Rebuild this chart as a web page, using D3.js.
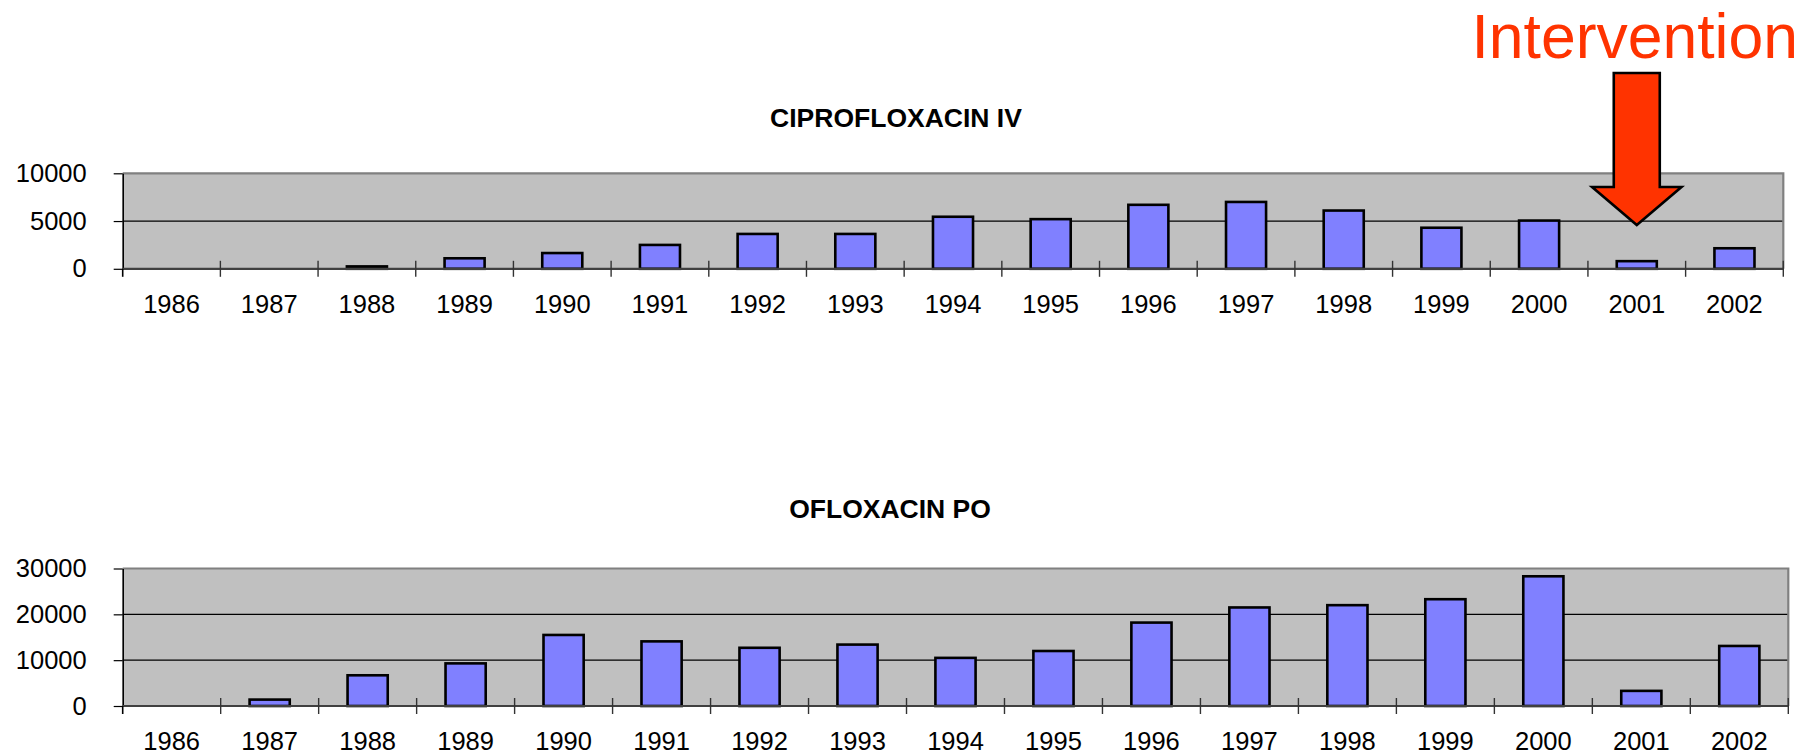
<!DOCTYPE html>
<html>
<head>
<meta charset="utf-8">
<script src="https://cdn.jsdelivr.net/npm/d3@7"></script>
<style>
  body { margin: 0; background: #fff; }
  svg { display: block; font-family: "Liberation Sans", Arial, sans-serif; }
</style>
</head>
<body>
<svg id="chart" width="1813" height="756"></svg>
<script>
// data
const years = ['1986', '1987', '1988', '1989', '1990', '1991', '1992', '1993', '1994',
               '1995', '1996', '1997', '1998', '1999', '2000', '2001', '2002'];
const ciproValues = [0, 0, 250, 1100, 1650, 2500, 3650, 3650, 5450, 5200, 6700, 7000, 6100, 4300, 5050, 800, 2150];
const ofloxValues = [0, 1400, 6700, 9300, 15500, 14100, 12700, 13400, 10500, 12000, 18200, 21500, 22000, 23300, 28300, 3300, 13100];
const ciproTicks = [0, 5000, 10000];
const ofloxTicks = [0, 10000, 20000, 30000];
const interventionYear = '2001';

const svg = d3.select('#chart');

function drawPanel(cfg) {
    const g = svg.append('g');

    const x = d3.scaleBand()
        .domain(years)
        .range([cfg.left, cfg.right])
        .padding(0);

    const y = d3.scaleLinear()
        .domain([0, d3.max(cfg.ticks)])
        .range([cfg.bottom, cfg.top]);

    // grey plot area
    g.append('rect')
        .attr('x', cfg.left)
        .attr('y', cfg.top)
        .attr('width', cfg.right - cfg.left)
        .attr('height', cfg.bottom - cfg.top)
        .attr('fill', '#c0c0c0');

    // gridlines (skip zero and the top edge)
    g.selectAll('.grid')
        .data(cfg.ticks.slice(1, -1))
        .join('line')
        .attr('class', 'grid')
        .attr('x1', cfg.left).attr('x2', cfg.right)
        .attr('y1', d => y(d)).attr('y2', d => y(d))
        .attr('stroke', '#000')
        .attr('stroke-width', 1.2);

    // top and right borders of the plot area
    g.append('path')
        .attr('d', `M${cfg.left},${y(d3.max(cfg.ticks))}H${cfg.right}V${cfg.bottom}`)
        .attr('fill', 'none')
        .attr('stroke', '#808080')
        .attr('stroke-width', 2.2);

    // bars
    const barW = x.bandwidth() * 0.41;
    g.selectAll('.bar')
        .data(years.map((yr, i) => ({year: yr, value: cfg.values[i]})).filter(d => d.value > 0))
        .join('rect')
        .attr('class', 'bar')
        .attr('x', d => x(d.year) + (x.bandwidth() - barW) / 2)
        .attr('width', barW)
        .attr('y', d => y(d.value))
        .attr('height', d => y(0) - y(d.value))
        .attr('fill', '#8080ff')
        .attr('stroke', '#000')
        .attr('stroke-width', 2.6);

    // y axis
    const yAxis = g.append('g')
        .attr('transform', `translate(${cfg.left},0)`)
        .call(d3.axisLeft(y)
            .tickValues(cfg.ticks)
            .tickFormat(d3.format('d'))
            .tickSize(9)
            .tickSizeOuter(0)
            .tickPadding(27));
    yAxis.select('.domain').attr('stroke', '#000').attr('stroke-width', 1.6);
    yAxis.selectAll('.tick line').attr('stroke', '#000').attr('stroke-width', 1.2);
    yAxis.selectAll('.tick text')
        .attr('font-size', 25.5)
        .attr('font-family', '"Liberation Sans", Arial, sans-serif')
        .attr('fill', '#000');

    // x axis line
    g.append('line')
        .attr('x1', cfg.left).attr('x2', cfg.right)
        .attr('y1', y(0)).attr('y2', y(0))
        .attr('stroke', '#404040')
        .attr('stroke-width', 2.2);

    // extend left axis below zero
    g.append('line')
        .attr('x1', cfg.left).attr('x2', cfg.left)
        .attr('y1', y(0)).attr('y2', y(0) + 8)
        .attr('stroke', '#000')
        .attr('stroke-width', 1.6);

    // category boundary ticks, crossing the axis
    const bounds = years.map(yr => x(yr)).concat([cfg.right]).slice(1);
    g.selectAll('.xtick')
        .data(bounds)
        .join('line')
        .attr('class', 'xtick')
        .attr('x1', d => d).attr('x2', d => d)
        .attr('y1', y(0) - 8).attr('y2', y(0) + 8)
        .attr('stroke', '#333')
        .attr('stroke-width', 1.4);

    // year labels
    g.selectAll('.xlabel')
        .data(years)
        .join('text')
        .attr('class', 'xlabel')
        .attr('x', d => x(d) + x.bandwidth() / 2)
        .attr('y', y(0) + 44)
        .attr('text-anchor', 'middle')
        .attr('font-size', 25.5)
        .attr('fill', '#000')
        .text(d => d);

    // title
    g.append('text')
        .attr('x', cfg.titleX)
        .attr('y', cfg.titleY)
        .attr('text-anchor', 'middle')
        .attr('font-size', 26.5)
        .attr('font-weight', 'bold')
        .attr('fill', '#000')
        .text(cfg.title);

    return {x, y};
}

const ciproPanel = drawPanel({
    title: 'CIPROFLOXACIN IV',
    values: ciproValues,
    ticks: ciproTicks,
    left: 122.7, right: 1783.3, top: 173.3, bottom: 268.8,
    titleX: 896, titleY: 127.3
});

drawPanel({
    title: 'OFLOXACIN PO',
    values: ofloxValues,
    ticks: ofloxTicks,
    left: 122.7, right: 1788.3, top: 568.5, bottom: 706,
    titleX: 890, titleY: 518.3
});

// intervention annotation
const cx = ciproPanel.x(interventionYear) + ciproPanel.x.bandwidth() / 2;
const shaftHalf = 23, headHalf = 44.7;
const shaftTop = 73, headBase = 187, tip = 225;
const arrow = d3.path();
arrow.moveTo(cx - shaftHalf, shaftTop);
arrow.lineTo(cx + shaftHalf, shaftTop);
arrow.lineTo(cx + shaftHalf, headBase);
arrow.lineTo(cx + headHalf, headBase);
arrow.lineTo(cx, tip);
arrow.lineTo(cx - headHalf, headBase);
arrow.lineTo(cx - shaftHalf, headBase);
arrow.closePath();

svg.append('path')
    .attr('d', arrow.toString())
    .attr('fill', '#ff3300')
    .attr('stroke', '#000')
    .attr('stroke-width', 2.6)
    .attr('stroke-linejoin', 'miter');

svg.append('text')
    .attr('x', 1798)
    .attr('y', 58.3)
    .attr('text-anchor', 'end')
    .attr('font-size', 62.5)
    .attr('fill', '#ff3300')
    .text('Intervention');
</script>
</body>
</html>
